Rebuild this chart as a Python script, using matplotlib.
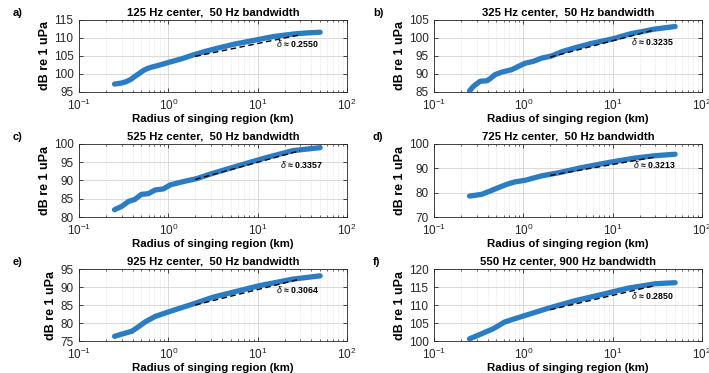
import numpy as np
import matplotlib
matplotlib.use("Agg")
import matplotlib.pyplot as plt
from matplotlib.ticker import LogLocator, NullFormatter, MultipleLocator

plt.rcParams['font.family'] = ['Liberation Sans', 'DejaVu Sans']
plt.rcParams['mathtext.fontset'] = 'custom'
plt.rcParams['mathtext.rm'] = 'Liberation Sans'
plt.rcParams['mathtext.it'] = 'Liberation Sans:italic'
plt.rcParams['mathtext.bf'] = 'Liberation Sans:bold'

# Received level vs. radius of singing region, per frequency band
titles = ["125 Hz center,  50 Hz bandwidth", "325 Hz center,  50 Hz bandwidth",
          "525 Hz center,  50 Hz bandwidth", "725 Hz center,  50 Hz bandwidth",
          "925 Hz center,  50 Hz bandwidth", "550 Hz center, 900 Hz bandwidth"]
letters = ["a)", "b)", "c)", "d)", "e)", "f)"]

r_a = [0.25, 0.3, 0.34, 0.38, 0.42, 0.47, 0.52, 0.58, 0.65, 0.8, 1.0, 1.4, 1.9, 2.6, 3.6, 5.5, 9.8, 15, 25, 35, 50]
db_a = [97.2, 97.5, 97.9, 98.5, 99.3, 100.1, 100.9, 101.5, 101.9, 102.5, 103.2, 104.2, 105.3, 106.3, 107.2, 108.3, 109.5, 110.4, 111.1, 111.4, 111.6]

r_b = [0.25, 0.27, 0.29, 0.33, 0.39, 0.43, 0.48, 0.57, 0.74, 0.88, 1.05, 1.29, 1.6, 2.07, 2.7, 3.8, 5.8, 9.8, 16, 30, 50]
db_b = [85.3, 86.3, 87.0, 88.0, 88.1, 88.8, 89.8, 90.5, 91.2, 92.1, 93.0, 93.5, 94.4, 95.0, 96.2, 97.3, 98.5, 99.7, 101.2, 102.5, 103.2]

r_c = [0.25, 0.3, 0.36, 0.42, 0.5, 0.6, 0.71, 0.88, 1.05, 1.47, 2.07, 2.9, 4.5, 7.5, 12.6, 25, 50]
db_c = [82.0, 82.9, 84.3, 84.8, 86.2, 86.4, 87.4, 87.7, 88.8, 89.7, 90.5, 91.7, 93.1, 94.7, 96.3, 98.2, 99.0]

r_d = [0.25, 0.34, 0.42, 0.52, 0.65, 0.8, 1.05, 1.6, 2.5, 4.5, 9, 17.6, 30, 50]
db_d = [78.6, 79.3, 80.6, 82.0, 83.4, 84.4, 85.1, 86.9, 88.2, 90.3, 92.4, 94.2, 95.2, 95.8]

r_e = [0.25, 0.31, 0.39, 0.46, 0.55, 0.71, 0.88, 1.13, 1.9, 3.2, 5.8, 10.6, 25, 50]
db_e = [76.3, 77.0, 77.7, 78.9, 80.3, 81.8, 82.6, 83.5, 85.3, 87.2, 88.8, 90.4, 92.2, 93.1]

r_f = [0.25, 0.34, 0.46, 0.62, 1.05, 1.9, 3.8, 7.5, 15, 30, 50]
db_f = [100.6, 102.0, 103.4, 105.3, 107.1, 109.1, 111.2, 112.9, 114.7, 115.9, 116.2]

# Power-law fit exponents and fit level at the start of the fit range
deltas = [0.2550, 0.3235, 0.3357, 0.3213, 0.3064, 0.2850]
fit_start_db = [104.9, 94.7, 90.3, 87.1, 85.0, 108.7]
fit_range = [2.0, 30.0]

ylims = [(95, 115), (85, 105), (80, 100), (70, 100), (75, 95), (100, 120)]
ysteps = [5, 5, 5, 10, 5, 5]
label_pos = [(16, 108.5), (16, 99.0), (18, 94.5), (17, 91.7), (16, 89.2), (16, 112.6)]

curves = [(r_a, db_a), (r_b, db_b), (r_c, db_c), (r_d, db_d), (r_e, db_e), (r_f, db_f)]

W, H = 709, 373
fig = plt.figure(figsize=(W / 100, H / 100), dpi=100)

lefts = [79, 434]
rows = [(20, 92), (144, 217), (269, 341)]
blue = '#2a7cc3'

for i in range(6):
    row, col = divmod(i, 2)
    top, bot = rows[row]
    x0 = lefts[col]
    ax = fig.add_axes([x0 / W, 1 - bot / H, 268 / W, (bot - top) / H])
    r, db = curves[i]
    ax.plot(r, db, color=blue, lw=3.8, solid_capstyle='round', solid_joinstyle='round', zorder=3)
    rf = np.geomspace(fit_range[0], fit_range[1], 50)
    yf = fit_start_db[i] + 20 * deltas[i] * np.log10(rf / fit_range[0])
    ax.plot(rf, yf, color='black', lw=1.0, ls=(0, (4, 2.5)), zorder=4)

    ax.set_xscale('log')
    ax.set_xlim(0.1, 100)
    ax.set_ylim(*ylims[i])
    ax.yaxis.set_major_locator(MultipleLocator(ysteps[i]))
    ax.xaxis.set_major_locator(LogLocator(base=10, numticks=10))
    ax.xaxis.set_minor_locator(LogLocator(base=10, subs=np.arange(2, 10), numticks=20))
    ax.xaxis.set_minor_formatter(NullFormatter())

    ax.grid(True, which='major', axis='both', color='#d4d4d4', lw=0.6, ls='-')
    ax.grid(True, which='minor', axis='x', color='#d8d8d8', lw=0.5, ls=':')
    ax.set_axisbelow(True)

    ax.tick_params(which='both', direction='in', top=True, right=True, colors='#262626',
                   labelsize=8.5)
    ax.tick_params(axis='x', which='major', pad=4.5)
    ax.tick_params(axis='y', which='major', pad=4)
    ax.tick_params(which='major', length=3, width=0.6)
    ax.tick_params(which='minor', length=1.5, width=0.5)
    for s in ax.spines.values():
        s.set_color('#262626')
        s.set_linewidth(0.6)

    ax.set_title(titles[i], fontsize=8.2, fontweight='bold', pad=3)
    ax.set_xlabel('Radius of singing region (km)', fontsize=8.2, fontweight='bold', labelpad=0.5)
    ax.set_ylabel('dB re 1 uPa', fontsize=9, fontweight='bold', labelpad=2)

    lx, ly = label_pos[i]
    ax.text(lx, ly, r'$\delta$' + ' \u2248 ' + f'{deltas[i]:.4f}', fontsize=6.3,
            fontweight='bold', va='center', ha='left', zorder=5)

    fig.text((13 if col == 0 else 373) / W, 1 - (top - 7) / H, letters[i],
             fontsize=8, fontweight='bold', va='center', ha='left')

fig.savefig('out.png', dpi=100)
